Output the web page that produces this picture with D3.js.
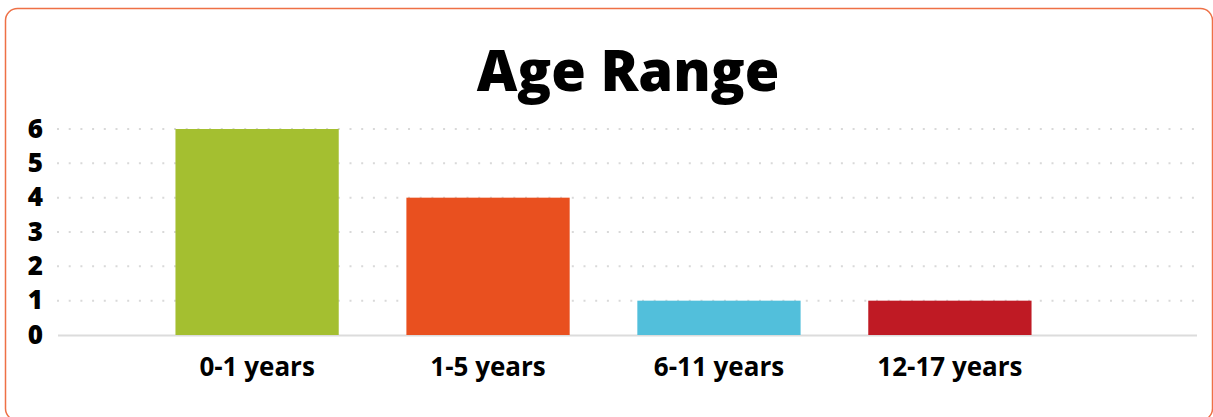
<!DOCTYPE html>
<html><head><meta charset="utf-8">
<script src="https://cdn.jsdelivr.net/npm/d3@7"></script>
<style>
html,body{margin:0;padding:0;background:#fff;overflow:hidden}
text{font-family:"Open Sans",sans-serif;font-weight:700;fill:#000}
</style></head>
<body>
<svg id="chart" width="1213" height="417"></svg>
<script>
const title = "Age Range";
const categories = ["0-1 years", "1-5 years", "6-11 years", "12-17 years"];
const values = [6, 4, 1, 1];
const colors = ["#a4bf30", "#e9501f", "#52bfdb", "#bf1a24"];
const yTicks = [0, 1, 2, 3, 4, 5, 6];

const svg = d3.select("#chart");

svg.append("rect")
  .attr("x", 5.5).attr("y", 8.5).attr("width", 1207).attr("height", 412)
  .attr("rx", 12).attr("ry", 12)
  .attr("fill", "#fff").attr("stroke", "#ee7046").attr("stroke-width", 1.5);

svg.append("text")
  .attr("x", 628).attr("y", 91)
  .attr("text-anchor", "middle")
  .style("font-size", "56px").style("font-weight", "800")
  .text(title);

const x = d3.scaleBand().domain(categories).range([60, 1147])
  .paddingInner(0.293).paddingOuter(0.5);
const y = d3.scaleLinear().domain([0, 6]).range([335, 129]);

const gridLeft = 57, gridRight = 1197;

// dotted gridlines
svg.append("g").selectAll("line")
  .data(yTicks.filter(d => d > 0))
  .join("line")
  .attr("x1", gridLeft).attr("x2", gridRight)
  .attr("y1", d => y(d)).attr("y2", d => y(d))
  .attr("stroke", "#d9d9d9").attr("stroke-width", 2)
  .attr("stroke-dasharray", "2 9.7");

// baseline
svg.append("line")
  .attr("x1", gridLeft + 1).attr("x2", gridRight)
  .attr("y1", y(0) + 0.5).attr("y2", y(0) + 0.5)
  .attr("stroke", "#dcdcdc").attr("stroke-width", 2);

// bars
svg.append("g").selectAll("rect")
  .data(categories)
  .join("rect")
  .attr("x", d => x(d))
  .attr("width", x.bandwidth())
  .attr("y", (d, i) => y(values[i]))
  .attr("height", (d, i) => y(0) - y(values[i]))
  .attr("fill", (d, i) => colors[i]);

// y axis labels
const yAxis = d3.axisLeft(y).tickValues(yTicks).tickSize(0).tickPadding(0).tickFormat(d3.format("d"));
const gy = svg.append("g").attr("transform", "translate(43,0)").call(yAxis);
gy.select(".domain").remove();
gy.selectAll("text")
  .attr("dy", null)
  .attr("y", -2)
  .attr("dominant-baseline", "central")
  .style("font-size", "26px").style("font-family", "'Open Sans',sans-serif")
  .style("font-weight", "800").attr("fill", "#000");

// x axis labels
const xAxis = d3.axisBottom(x).tickSize(0).tickPadding(0);
const gx = svg.append("g").attr("transform", "translate(0,376)").call(xAxis);
gx.select(".domain").remove();
gx.selectAll("text")
  .attr("dy", null).attr("y", 0)
  .style("font-size", "26px").style("font-family", "'Open Sans',sans-serif")
  .style("font-weight", "700").attr("fill", "#000");
</script>
</body></html>
